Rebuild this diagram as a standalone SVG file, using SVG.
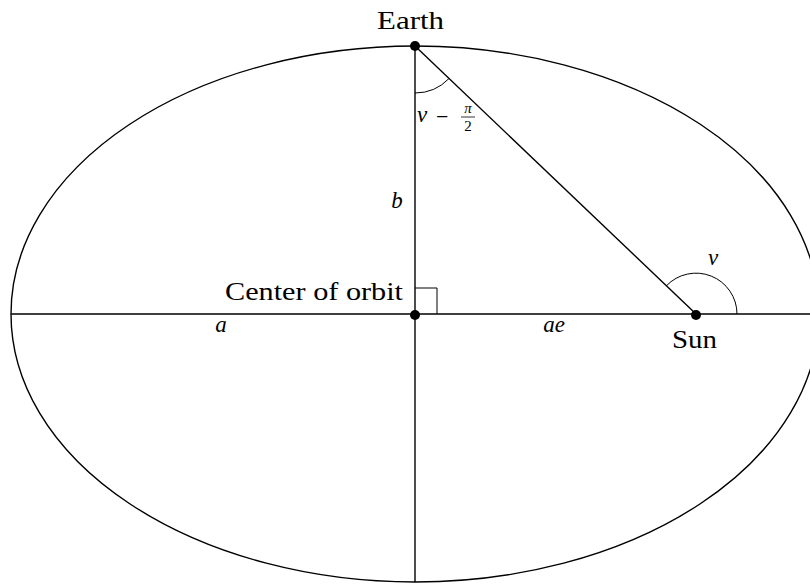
<svg xmlns="http://www.w3.org/2000/svg" width="810" height="584" viewBox="0 0 810 584">
<style>
.ln{fill:none;stroke:#000;stroke-width:1.4}
.thin{fill:none;stroke:#000;stroke-width:1}
.t{font-family:"Liberation Serif","DejaVu Serif",serif;font-size:26px;fill:#000}
.m{font-family:"Liberation Serif","DejaVu Serif",serif;font-style:italic;font-size:23px;fill:#000}
.s{font-family:"Liberation Serif","DejaVu Serif",serif;font-size:15px;fill:#000}
</style>
<rect width="810" height="584" fill="#fff"/>
<g id="orbit">
<ellipse class="ln" cx="415" cy="314" rx="404" ry="268"/>
</g>
<g id="connectors">
<line class="ln" x1="11" y1="314" x2="810" y2="314"/>
<line class="ln" x1="415" y1="46" x2="415" y2="582"/>
<line class="ln" x1="415" y1="46" x2="696" y2="314"/>
<polyline class="thin" points="415,288 437,288 437,314"/>
<path class="thin" d="M415,93 A47,47 0 0 0 449,78.5"/>
<path class="thin" d="M737,314 A41,41 0 0 0 666.4,285.8"/>
</g>
<g id="earth">
<circle cx="415" cy="46" r="5"/>
<text class="t" x="377" y="29" textLength="67" lengthAdjust="spacingAndGlyphs">Earth</text>
</g>
<g id="center">
<circle cx="415" cy="315" r="5"/>
<text class="t" x="225" y="300" textLength="178" lengthAdjust="spacingAndGlyphs">Center of orbit</text>
</g>
<g id="sun">
<circle cx="696" cy="315" r="5"/>
<text class="t" x="672" y="348" textLength="45" lengthAdjust="spacingAndGlyphs">Sun</text>
</g>
<g id="labels">
<text class="m" x="221" y="332" text-anchor="middle">a</text>
<text class="m" x="554" y="332" text-anchor="middle">ae</text>
<text class="m" x="397" y="208" text-anchor="middle">b</text>
<text class="m" x="713" y="265" text-anchor="middle">ν</text>
<text class="m" x="417" y="122">ν</text>
<text class="t" x="436" y="124" style="font-size:22px">−</text>
<text class="m" x="468" y="113" text-anchor="middle" style="font-size:15px">π</text>
<line x1="461" y1="117" x2="475" y2="117" stroke="#000" stroke-width="0.8"/>
<text class="s" x="468" y="131" text-anchor="middle">2</text>
</g>
</svg>
